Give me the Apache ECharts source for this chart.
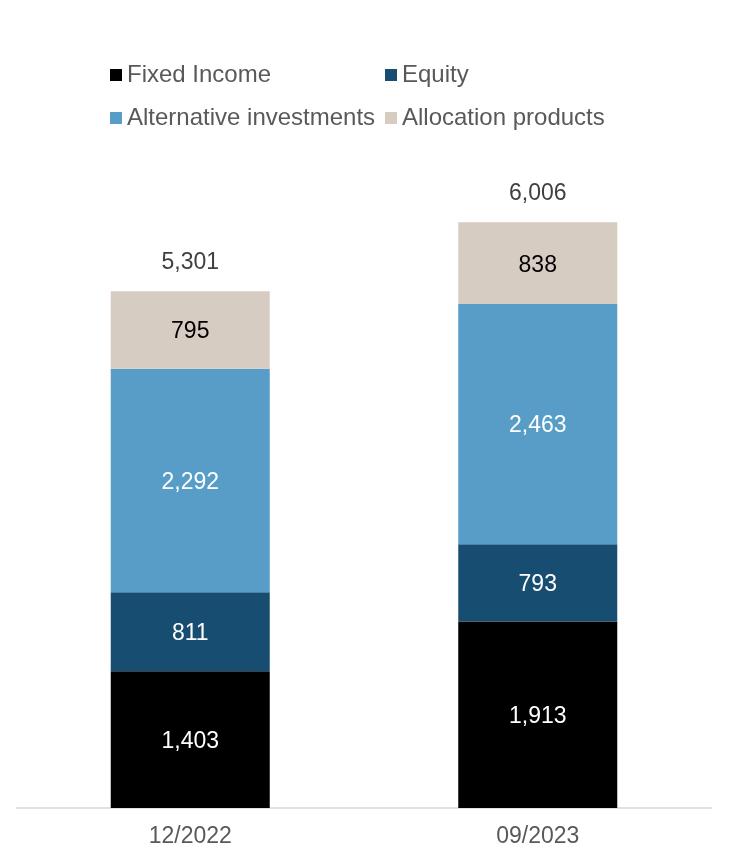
<!DOCTYPE html>
<html>
<head>
<meta charset="utf-8">
<script src="https://cdn.jsdelivr.net/npm/echarts@6/dist/echarts.min.js"></script>
<style>
  html, body { margin: 0; padding: 0; background: #ffffff; }
  #chart { width: 746px; height: 852px; }
</style>
</head>
<body>
<div id="chart"></div>
<script>
// Assets by product type (stacked), two reporting dates
const categories = ['12/2022', '09/2023'];
const fixedIncome = [1403, 1913];
const equity = [811, 793];
const alternatives = [2292, 2463];
const allocation = [795, 838];
const totals = [5301, 6006];

const seriesNames = ['Fixed Income', 'Equity', 'Alternative investments', 'Allocation products'];
const seriesColors = ['#000000', '#174d71', '#579dc7', '#d7ccc2'];
const labelColors = ['#ffffff', '#ffffff', '#ffffff', '#000000'];
const seriesData = [fixedIncome, equity, alternatives, allocation];

const FONT = 'Liberation Sans, Arial, sans-serif';
const fmt = v => v.toLocaleString('en-US');

const series = seriesNames.map((name, i) => ({
  name,
  type: 'bar',
  stack: 'total',
  barWidth: 159,
  itemStyle: { color: seriesColors[i] },
  label: {
    show: true,
    position: 'inside',
    offset: [0, 2],
    color: labelColors[i],
    fontFamily: FONT,
    fontSize: 23,
    formatter: p => fmt(p.value)
  },
  data: seriesData[i]
}));

// Totals sit above each stack via an empty stacked series
series.push({
  name: 'Total',
  type: 'bar',
  stack: 'total',
  barWidth: 159,
  itemStyle: { color: 'transparent' },
  label: {
    show: true,
    position: 'top',
    distance: 17,
    color: '#404040',
    fontFamily: FONT,
    fontSize: 23,
    formatter: p => fmt(totals[p.dataIndex])
  },
  data: totals.map(() => 0)
});

const legendPos = [
  { left: 110, top: 63 },
  { left: 385, top: 63 },
  { left: 110, top: 106 },
  { left: 385, top: 106 }
];

const chart = echarts.init(document.getElementById('chart'), null, { renderer: 'canvas' });
chart.setOption({
  animation: false,
  backgroundColor: '#ffffff',
  legend: seriesNames.map((name, i) => ({
    data: [name],
    left: legendPos[i].left,
    top: legendPos[i].top,
    icon: 'rect',
    itemWidth: 12,
    itemHeight: 12,
    itemGap: 0,
    padding: 0,
    selectedMode: false,
    textStyle: { color: '#595959', fontFamily: FONT, fontSize: 24, lineHeight: 24 }
  })),
  grid: { left: 16.5, right: 34.5, top: 125.5, bottom: 44, containLabel: false },
  xAxis: {
    type: 'category',
    data: categories,
    axisLine: { show: true, lineStyle: { color: '#d9d9d9', width: 1.5 } },
    axisTick: { show: false },
    axisLabel: { color: '#595959', fontFamily: FONT, fontSize: 23, margin: 17 }
  },
  yAxis: {
    type: 'value',
    min: 0,
    max: 7000,
    show: false,
    splitLine: { show: false }
  },
  series
});
</script>
</body>
</html>
